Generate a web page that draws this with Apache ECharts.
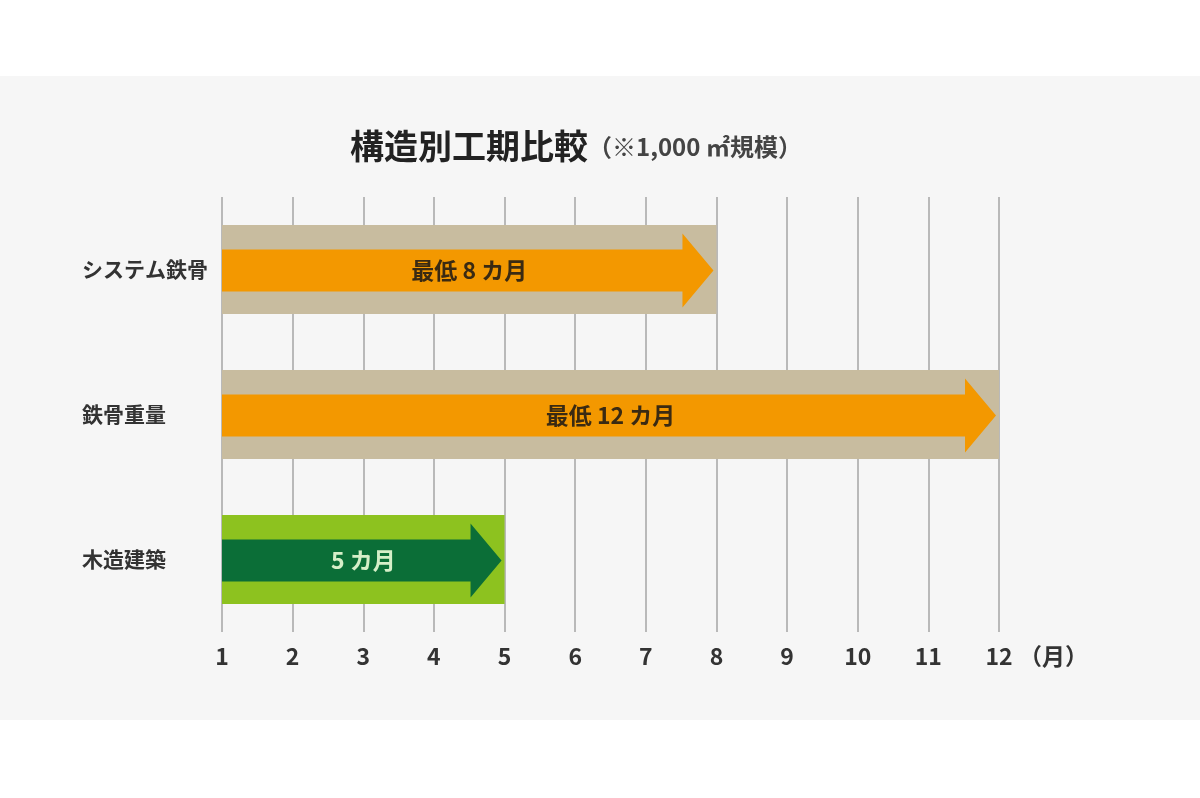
<!DOCTYPE html>
<html>
<head>
<meta charset="utf-8">
<script src="https://cdn.jsdelivr.net/npm/echarts@6/dist/echarts.min.js"></script>
<style>
  html, body { margin: 0; padding: 0; background: #ffffff; }
  #panel { position: absolute; left: 0; top: 76px; width: 1200px; height: 644px; background: #f6f6f6; }
  #chart { position: absolute; left: 0; top: 0; width: 1200px; height: 798px; }
</style>
</head>
<body>
<div id="panel"></div>
<div id="chart"></div>
<script>
// ---- data ----
const categories = ['システム鉄骨', '鉄骨重量', '木造建築'];
const startMonth = [1, 1, 1];
const endMonth = [8, 12, 5];
const barLabels = ['最低 8 カ月', '最低 12 カ月', '5 カ月'];
const axisMin = 1;
const axisMax = 12;
const axisUnit = '（月）';
const titleMain = '構造別工期比較';
const titleSub = '（※1,000 ㎡規模）';

// ---- styles ----
const bandColors = ['#c8bc9f', '#c8bc9f', '#8dc21f'];
const arrowColors = ['#f39800', '#f39800', '#0b6e37'];
const textColors = ['#3a2a12', '#3a2a12', '#d6efc8'];
const FONT = '"Noto Sans CJK JP", "Noto Sans", sans-serif';

const seriesData = categories.map((c, i) => [i, startMonth[i], endMonth[i]]);

const chart = echarts.init(document.getElementById('chart'), null, { renderer: 'canvas' });

chart.setOption({
  backgroundColor: 'transparent',
  animation: false,
  title: {
    left: 350,
    top: 129,
    padding: 0,
    text: '{a|' + titleMain + '}{b|' + titleSub + '}',
    textStyle: {
      fontFamily: FONT,
      rich: {
        a: { fontFamily: FONT, fontSize: 34, fontWeight: 'bold', color: '#222222' },
        b: { fontFamily: FONT, fontSize: 24, fontWeight: 'bold', color: '#444444', padding: [2, 0, 0, 0] }
      }
    }
  },
  grid: { left: 222, right: 201, top: 197, height: 435 },
  xAxis: {
    type: 'value',
    min: axisMin,
    max: axisMax,
    interval: 1,
    axisLine: { show: false },
    axisTick: { show: false },
    splitLine: { show: true, lineStyle: { color: '#b9b9b9', width: 2 } },
    axisLabel: { fontFamily: FONT, fontSize: 23, fontWeight: 'bold', color: '#333333', margin: 13 },
    name: axisUnit,
    nameLocation: 'end',
    nameGap: 20,
    nameTextStyle: { fontFamily: FONT, fontSize: 23, fontWeight: 'bold', color: '#333333', verticalAlign: 'top', padding: [13, 0, 0, 0] }
  },
  yAxis: {
    type: 'category',
    data: categories,
    inverse: true,
    axisLine: { show: false },
    axisTick: { show: false },
    splitLine: { show: false },
    axisLabel: { fontFamily: FONT, fontSize: 21, fontWeight: 'bold', color: '#333333', margin: 140, align: 'left' }
  },
  series: [{
    type: 'custom',
    data: seriesData,
    encode: { x: [1, 2], y: 0 },
    renderItem: function (params, api) {
      const idx = api.value(0);
      const p0 = api.coord([api.value(1), idx]);
      const p1 = api.coord([api.value(2), idx]);
      const x0 = p0[0], x1 = p1[0], cy = p0[1];
      const bandH = 89, shaftH = 21, headH = 37, headL = 31, tipInset = 3;
      const tip = x1 - tipInset;
      const hb = tip - headL;
      return {
        type: 'group',
        children: [
          { type: 'rect', shape: { x: x0, y: cy - bandH / 2, width: x1 - x0, height: bandH }, style: { fill: bandColors[idx] } },
          { type: 'polygon', shape: { points: [[x0, cy - shaftH + 1], [hb, cy - shaftH + 1], [hb, cy - headH + 1], [tip, cy + 1], [hb, cy + headH + 1], [hb, cy + shaftH + 1], [x0, cy + shaftH + 1]] }, style: { fill: arrowColors[idx] } },
          { type: 'text', x: (x0 + x1) / 2, y: cy + 1, style: { text: barLabels[idx], fill: textColors[idx], font: 'bold 23px ' + FONT, align: 'center', verticalAlign: 'middle' } }
        ]
      };
    }
  }]
});
</script>
</body>
</html>
